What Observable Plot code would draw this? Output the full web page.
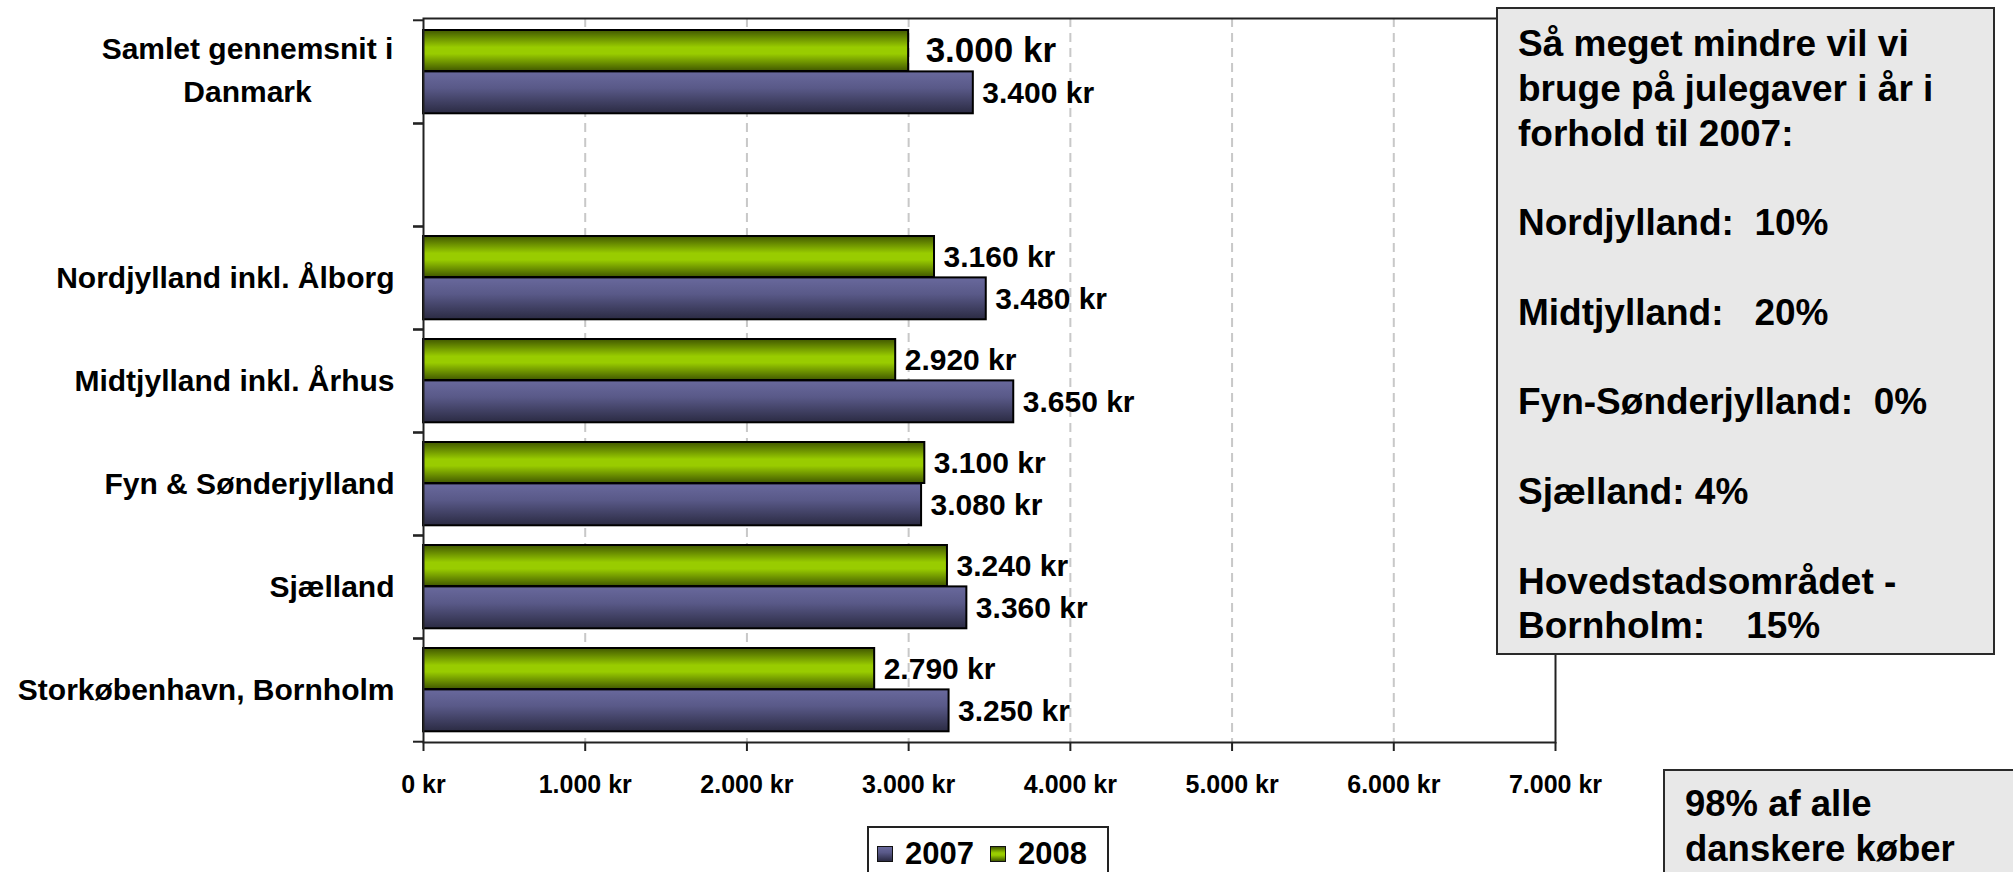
<!DOCTYPE html>
<html>
<head>
<meta charset="utf-8">
<script src="https://cdn.jsdelivr.net/npm/d3@7"></script>
<script src="https://cdn.jsdelivr.net/npm/@observablehq/plot@0.6"></script>
<style>
  html, body { margin: 0; padding: 0; background: #fff; }
  body { font-family: "Liberation Sans", Arial, sans-serif; font-weight: bold; color: #000; }
  #wrap { position: relative; width: 2013px; height: 872px; overflow: hidden; }
  #wrap svg { position: absolute; left: 0; top: 0; }
  .box { position: absolute; background: #e8e8e8; border: 2px solid #2a2a2a; box-sizing: border-box; white-space: pre; color: #000; }
  #note1 { left: 1496px; top: 7px; width: 499px; height: 648px; padding: 13px 0 0 20px; font-size: 37px; line-height: 44.8px; }
  #note2 { left: 1663px; top: 769px; width: 420px; height: 160px; padding: 11px 0 0 20px; font-size: 36.5px; line-height: 44.8px; }
  #legend { position: absolute; left: 867px; top: 826px; width: 242px; height: 56px; box-sizing: border-box; border: 2px solid #222; background: #fff; display: flex; align-items: center; padding-left: 8px; font-size: 31px; }
  .sw { width: 16px; height: 16px; box-sizing: border-box; border: 1px solid #111; display: inline-block; }
  .lab { margin-left: 12px; margin-right: 16px; }
</style>
</head>
<body>
<div id="wrap"></div>
<script>
// ---- data ----
const categories = [
  "Samlet gennemsnit i\nDanmark",
  " ",
  "Nordjylland inkl. Ålborg",
  "Midtjylland inkl. Århus",
  "Fyn & Sønderjylland",
  "Sjælland",
  "Storkøbenhavn, Bornholm"
];
const values2008 = [3000, null, 3160, 2920, 3100, 3240, 2790];
const values2007 = [3400, null, 3480, 3650, 3080, 3360, 3250];
const seriesNames = ["2007", "2008"];
const xTicks = [0, 1000, 2000, 3000, 4000, 5000, 6000, 7000];
const gridTicks = [1000, 2000, 3000, 4000, 5000, 6000];
const note1Lines = [
  "Så meget mindre vil vi",
  "bruge på julegaver i år i",
  "forhold til 2007:",
  "",
  "Nordjylland:  10%",
  "",
  "Midtjylland:   20%",
  "",
  "Fyn-Sønderjylland:  0%",
  "",
  "Sjælland: 4%",
  "",
  "Hovedstadsområdet -",
  "Bornholm:    15%"
];
const note2Lines = ["98% af alle", "danskere køber"];

// ---- helpers ----
const fmt = v => String(v).replace(/\B(?=(\d{3})+(?!\d))/g, ".") + " kr";
const rows2008 = categories.map((cat, i) => ({cat, value: values2008[i]})).filter(d => d.value != null);
const rows2007 = categories.map((cat, i) => ({cat, value: values2007[i]})).filter(d => d.value != null);

const W = 2013, H = 872, mL = 423, mR = 458, mT = 18, mB = 130;
const bw = (H - mT - mB) / categories.length;
const font = "'Liberation Sans', Arial, sans-serif";

const plot = Plot.plot({
  width: W, height: H,
  marginLeft: mL, marginRight: mR, marginTop: mT, marginBottom: mB,
  style: {fontFamily: font, fontWeight: "bold", fontSize: "25px", color: "#000", background: "transparent", overflow: "visible"},
  x: {domain: [0, 7000], axis: null},
  y: {domain: categories, padding: 0, axis: null},
  marks: [
    Plot.gridX(gridTicks, {stroke: "#c8c8c8", strokeOpacity: 1, strokeWidth: 2, strokeDasharray: "9,6"}),
    Plot.barX(rows2008, {x: "value", y: "cat", fill: "url(#grad2008)", stroke: "#000", strokeWidth: 2, insetTop: 10, insetBottom: 52}),
    Plot.barX(rows2007, {x: "value", y: "cat", fill: "url(#grad2007)", stroke: "#000", strokeWidth: 2, insetTop: 51.4, insetBottom: 9.7}),
    Plot.text(rows2008.filter(d => d.cat !== categories[0]), {x: "value", y: "cat", text: d => fmt(d.value), dx: 9, dy: -21, textAnchor: "start", fontSize: 30, fontWeight: "bold"}),
    Plot.text(rows2008.filter(d => d.cat === categories[0]), {x: "value", y: "cat", text: d => fmt(d.value), dx: 17, dy: -21, textAnchor: "start", fontSize: 35, fontWeight: "bold"}),
    Plot.text(rows2007, {x: "value", y: "cat", text: d => fmt(d.value), dx: 9, dy: 21, textAnchor: "start", fontSize: 30, fontWeight: "bold"}),
    Plot.text(categories.slice(1), {y: d => d, text: d => d, frameAnchor: "left", textAnchor: "end", dx: -29, fontSize: 30, fontWeight: "bold"}),
    Plot.text(categories.slice(0, 1), {y: d => d, text: d => d, frameAnchor: "left", textAnchor: "middle", dx: -176, dy: -5, lineHeight: 1.42, fontSize: 30, fontWeight: "bold"}),
    Plot.frame({stroke: "#222", strokeWidth: 2}),
    Plot.ruleY(categories, {y: d => d, x1: 0, x2: 0, insetLeft: -10, dy: -bw / 2, stroke: "#222", strokeWidth: 2}),
    Plot.ruleY(categories, {y: d => d, x1: 0, x2: 0, insetLeft: -10, dy: bw / 2, stroke: "#222", strokeWidth: 2}),
    Plot.axisX(xTicks, {tickSize: 9, tickPadding: 24, tickFormat: fmt, fontSize: 25, fontWeight: "bold", label: null, stroke: "#222", strokeWidth: 2})
  ]
});

// gradients for the bars
const svg = d3.select(plot.tagName.toLowerCase() === "svg" ? plot : plot.querySelector("svg"));
const defs = svg.insert("defs", ":first-child");
const g8 = defs.append("linearGradient").attr("id", "grad2008").attr("x1", 0).attr("y1", 0).attr("x2", 0).attr("y2", 1);
[[0, "#415800"], [0.42, "#99cc00"], [0.58, "#99cc00"], [1, "#415800"]].forEach(([o, c]) => g8.append("stop").attr("offset", o).attr("stop-color", c));
const g7 = defs.append("linearGradient").attr("id", "grad2007").attr("x1", 0).attr("y1", 0).attr("x2", 0).attr("y2", 1);
[[0, "#69699d"], [0.4, "#595988"], [1, "#2b2b43"]].forEach(([o, c]) => g7.append("stop").attr("offset", o).attr("stop-color", c));

const wrap = document.getElementById("wrap");
wrap.appendChild(plot);

const n1 = document.createElement("div");
n1.className = "box"; n1.id = "note1"; n1.textContent = note1Lines.join("\n");
wrap.appendChild(n1);
const n2 = document.createElement("div");
n2.className = "box"; n2.id = "note2"; n2.textContent = note2Lines.join("\n");
wrap.appendChild(n2);

const swatchBg = {
  "2007": "linear-gradient(#69699d, #595988 40%, #2b2b43)",
  "2008": "linear-gradient(#415800, #99cc00 42%, #99cc00 58%, #415800)"
};
const leg = document.createElement("div");
leg.id = "legend";
seriesNames.forEach(name => {
  const sw = document.createElement("span");
  sw.className = "sw"; sw.style.background = swatchBg[name];
  const lb = document.createElement("span");
  lb.className = "lab"; lb.textContent = name;
  leg.appendChild(sw); leg.appendChild(lb);
});
wrap.appendChild(leg);
</script>
</body>
</html>
